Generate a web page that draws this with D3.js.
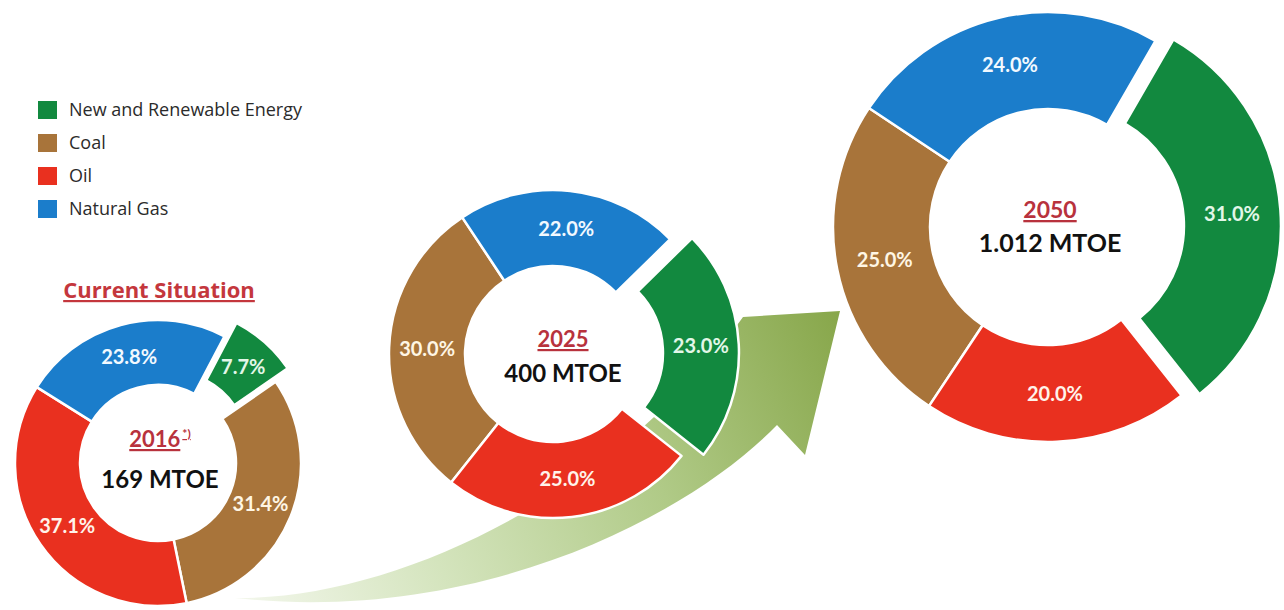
<!DOCTYPE html>
<html>
<head>
<meta charset="utf-8">
<script src="https://cdn.jsdelivr.net/npm/d3@7"></script>
<style>
  html, body { margin: 0; padding: 0; background: #ffffff; }
  svg { display: block; }
  text { font-family: Lato, "Open Sans", sans-serif; }
</style>
</head>
<body>
<svg id="chart" width="1284" height="610"></svg>
<script>
// ---------- DATA ----------
const categories = ["New and Renewable Energy", "Coal", "Oil", "Natural Gas"];
const years = ["2016", "2025", "2050"];
const totals = ["169 MTOE", "400 MTOE", "1.012 MTOE"];
const shares2016 = [7.7, 31.4, 37.1, 23.8];
const shares2025 = [23.0, 30.0, 25.0, 22.0];
const shares2050 = [31.0, 25.0, 20.0, 24.0];
// clockwise drawing order of the categories in each ring
const order2016 = ["New and Renewable Energy", "Coal", "Oil", "Natural Gas"];
const orderProjection = ["New and Renewable Energy", "Oil", "Coal", "Natural Gas"];
const titleText = "Current Situation";

// ---------- STYLE / LAYOUT ----------
const colors = ["#12893f", "#a8743a", "#e9301f", "#1b7dcb"];
const labelColors = ["#e2f7e8", "#fff6e4", "#fff3ea", "#f2f9ff"];
const darkRed = "#b8323d";

const svg = d3.select("#chart");
svg.append("rect").attr("width", 1284).attr("height", 610).attr("fill", "#ffffff");

const color = d3.scaleOrdinal().domain(categories).range(colors);
const labelColor = d3.scaleOrdinal().domain(categories).range(labelColors);

// ---------- ARROW (decorative, behind donuts) ----------
const defs = svg.append("defs");
const grad = defs.append("linearGradient").attr("id", "arrowGrad")
  .attr("gradientUnits", "userSpaceOnUse")
  .attr("x1", 235).attr("y1", 600).attr("x2", 840).attr("y2", 320);
[[0, "#f3f7ec"], [0.3, "#d4e4bd"], [0.65, "#b0ca87"], [1, "#88a74b"]].forEach(([o, c]) =>
  grad.append("stop").attr("offset", o).attr("stop-color", c));

const ap = d3.path();
ap.moveTo(235, 598);
ap.bezierCurveTo(400, 600, 620, 490, 743, 317);
ap.lineTo(840, 311);
ap.lineTo(805, 455);
ap.lineTo(777, 425);
ap.bezierCurveTo(690, 515, 480, 625, 235, 598);
ap.closePath();
svg.append("path").attr("d", ap.toString()).attr("fill", "url(#arrowGrad)");

// ---------- LEGEND ----------
const legend = svg.append("g").attr("transform", "translate(38,101)");
const legendStep = 33;
const lg = legend.selectAll("g").data(categories).join("g")
  .attr("transform", (d, i) => `translate(0,${i * legendStep})`);
lg.append("rect").attr("width", 19).attr("height", 18).attr("fill", d => color(d));
lg.append("text").attr("x", 31).attr("y", 15).attr("font-size", 18)
  .style("font-family", "'Open Sans', sans-serif")
  .attr("fill", "#2b2b2b").text(d => d);

// ---------- TITLE ----------
svg.append("text").attr("x", 159).attr("y", 298).attr("text-anchor", "middle")
  .style("font-family", "'Open Sans', sans-serif")
  .attr("font-size", 22).attr("font-weight", 700).attr("fill", "#c4373d")
  .style("text-decoration", "underline").text(titleText);

// ---------- DONUTS ----------
const donuts = [
  { values: shares2016, order: order2016, year: years[0], total: totals[0], cx: 158, cy: 463, R: 143, r: 78, start: 27.7, explode: 18, sup: "*)",
    tx: 160, yearY: 447, totY: 488, yearSize: 22, totSize: 24 },
  { values: shares2025, order: orderProjection, year: years[1], total: totals[1], cx: 553, cy: 354, R: 164, r: 88, start: 45.6, explode: 22, sup: null,
    tx: 563, yearY: 347, totY: 382, yearSize: 22, totSize: 24 },
  { values: shares2050, order: orderProjection, year: years[2], total: totals[2], cx: 1048, cy: 227, R: 215, r: 118, start: 30, explode: 18, sup: null,
    tx: 1050, yearY: 218, totY: 252, yearSize: 23, totSize: 25 }
];

donuts.forEach(cfg => {
  const s = cfg.start * Math.PI / 180;
  const pie = d3.pie()
    .sort((a, b) => cfg.order.indexOf(a.cat) - cfg.order.indexOf(b.cat))
    .value(d => d.v).startAngle(s).endAngle(s + 2 * Math.PI);
  const arc = d3.arc().innerRadius(cfg.r).outerRadius(cfg.R);
  const arcs = pie(cfg.values.map((v, i) => ({ v, cat: categories[i] })));

  const g = svg.append("g").attr("transform", `translate(${cfg.cx},${cfg.cy})`);
  const slice = g.selectAll("g.slice").data(arcs).join("g").attr("class", "slice")
    .attr("transform", d => {
      if (d.data.cat !== categories[0]) return null;
      const m = (d.startAngle + d.endAngle) / 2;
      return `translate(${cfg.explode * Math.sin(m)},${-cfg.explode * Math.cos(m)})`;
    });
  slice.append("path").attr("d", arc)
    .attr("fill", d => color(d.data.cat))
    .attr("stroke", "#ffffff").attr("stroke-width", 2.5).attr("stroke-linejoin", "round");
  slice.append("text")
    .attr("transform", d => `translate(${arc.centroid(d)})`)
    .attr("text-anchor", "middle").attr("dy", "0.36em")
    .attr("font-size", 20).attr("font-weight", 700)
    .attr("fill", d => labelColor(d.data.cat))
    .text(d => d.data.v.toFixed(1) + "%");

  const yt = svg.append("text").attr("x", cfg.tx).attr("y", cfg.yearY)
    .attr("text-anchor", "middle").attr("font-size", cfg.yearSize).attr("font-weight", 700)
    .attr("fill", darkRed);
  yt.append("tspan").style("text-decoration", "underline").text(cfg.year);
  if (cfg.sup) {
    yt.append("tspan").attr("font-size", 12).attr("dy", -9).attr("dx", 2)
      .style("text-decoration", "underline").text(cfg.sup);
  }
  svg.append("text").attr("x", cfg.tx).attr("y", cfg.totY)
    .attr("text-anchor", "middle").attr("font-size", cfg.totSize).attr("font-weight", 700)
    .attr("fill", "#111111").text(cfg.total);
});
</script>
</body>
</html>
